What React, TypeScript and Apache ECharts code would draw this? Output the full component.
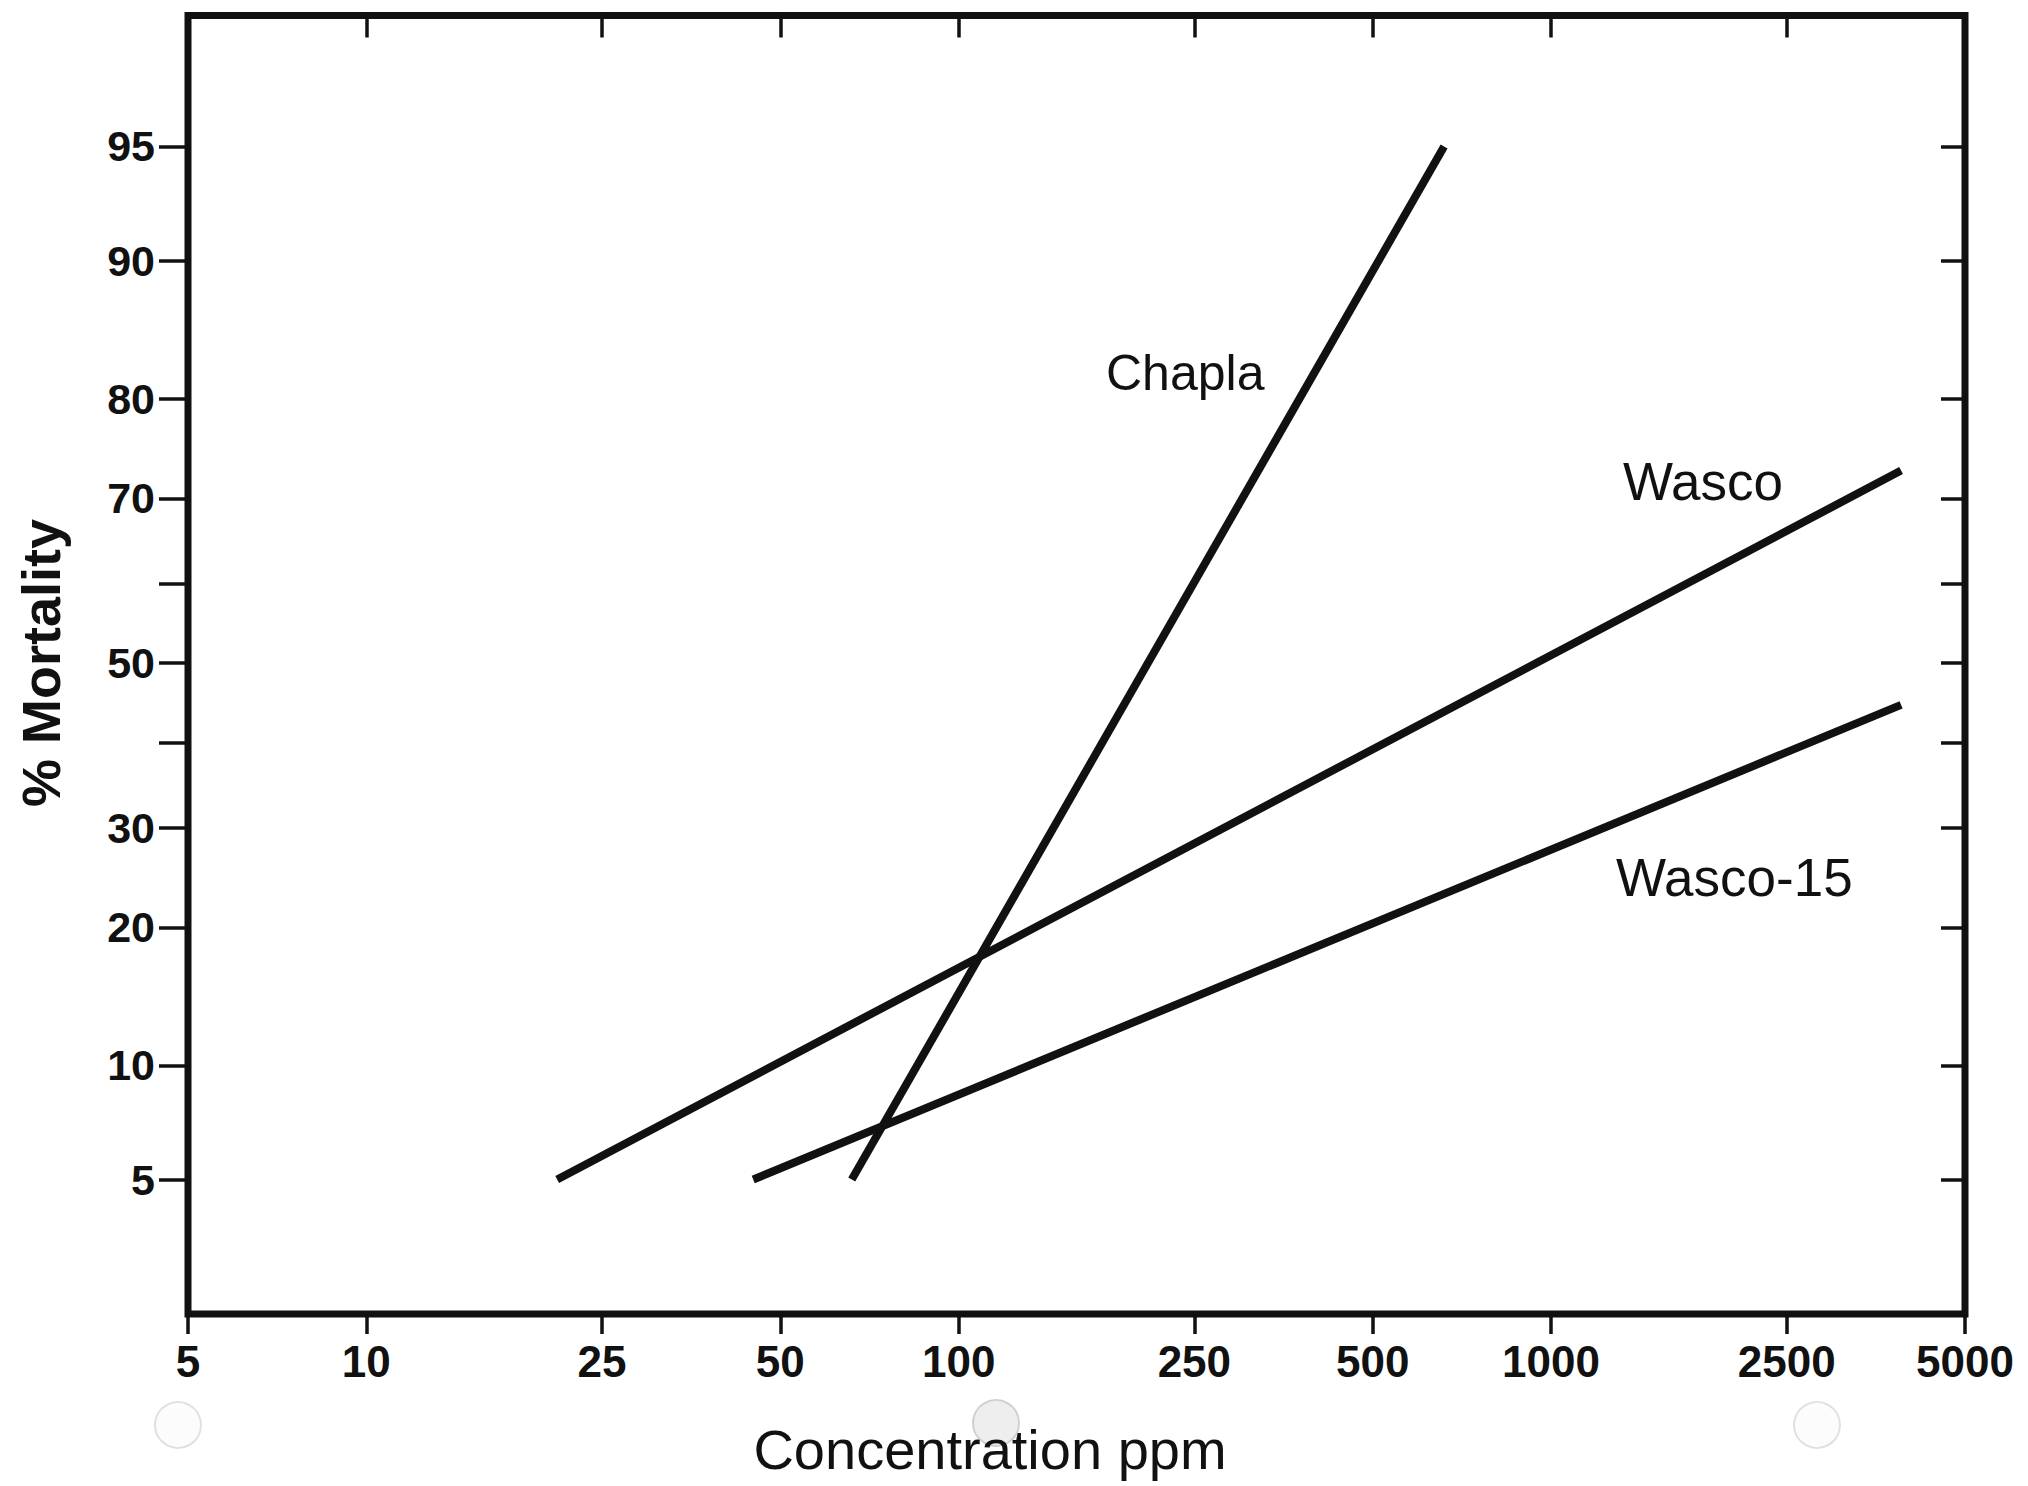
import React, { useEffect, useRef } from "react";
import * as echarts from "echarts";

// ---- data ----
// concentration (ppm) and % mortality at the two ends of each fitted probit line
const chaplaConc = [66, 660];
const chaplaPct = [5, 95];
const wascoConc = [21, 3900];
const wascoPct = [5, 73];
const wasco15Conc = [45, 3900];
const wasco15Pct = [5, 44.7];

// axis ticks / labels
const concTicks = [5, 10, 25, 50, 100, 250, 500, 1000, 2500, 5000];
const concTopTicks = [10, 25, 50, 100, 250, 500, 1000, 2500];
const pctTicks = [5, 10, 20, 30, 40, 50, 60, 70, 80, 90, 95];
const pctLabels = [5, 10, 20, 30, 50, 70, 80, 90, 95];

const seriesNames = ["Chapla", "Wasco", "Wasco-15"];

// inverse normal CDF (probit scale)
function probit(p: number): number {
  const a = [-3.969683028665376e1, 2.209460984245205e2, -2.759285104469687e2, 1.38357751867269e2, -3.066479806614716e1, 2.506628277459239];
  const b = [-5.447609879822406e1, 1.615858368580409e2, -1.556989798598866e2, 6.680131188771972e1, -1.328068155288572e1];
  const c = [-7.784894002430293e-3, -3.223964580411365e-1, -2.400758277161838, -2.549732539343734, 4.374664141464968, 2.938163982698783];
  const d = [7.784695709041462e-3, 3.224671290700398e-1, 2.445134137142996, 3.754408661907416];
  const plow = 0.02425;
  const phigh = 1 - plow;
  let q: number, r: number;
  if (p < plow) {
    q = Math.sqrt(-2 * Math.log(p));
    return (((((c[0] * q + c[1]) * q + c[2]) * q + c[3]) * q + c[4]) * q + c[5]) / ((((d[0] * q + d[1]) * q + d[2]) * q + d[3]) * q + 1);
  }
  if (p <= phigh) {
    q = p - 0.5;
    r = q * q;
    return ((((((a[0] * r + a[1]) * r + a[2]) * r + a[3]) * r + a[4]) * r + a[5]) * q) / (((((b[0] * r + b[1]) * r + b[2]) * r + b[3]) * r + b[4]) * r + 1);
  }
  q = Math.sqrt(-2 * Math.log(1 - p));
  return -(((((c[0] * q + c[1]) * q + c[2]) * q + c[3]) * q + c[4]) * q + c[5]) / ((((d[0] * q + d[1]) * q + d[2]) * q + d[3]) * q + 1);
}

const toPoints = (conc: number[], pct: number[]) => conc.map((cv, i) => [Math.log10(cv), probit(pct[i] / 100)]);

const INK = "#111111";
const FONT = "'Liberation Sans', Arial, Helvetica, sans-serif";

export default function App() {
  const ref = useRef<HTMLDivElement>(null);

  useEffect(() => {
    if (!ref.current) return;
    const chart = echarts.init(ref.current, null, { renderer: "svg" });

    const pctFormatter = (v: number) => {
      let best = pctLabels[0];
      for (const p of pctLabels) {
        if (Math.abs(probit(p / 100) - v) < Math.abs(probit(best / 100) - v)) best = p;
      }
      return String(best);
    };

    const xMin = Math.log10(5);
    const xMax = Math.log10(5000);
    const yMin = -2.073;
    const yMax = 2.062;

    const lineSeries = (name: string, conc: number[], pct: number[]) => ({
      name,
      type: "line",
      xAxisIndex: 0,
      yAxisIndex: 0,
      data: toPoints(conc, pct),
      symbol: "none",
      silent: true,
      lineStyle: { color: INK, width: 8, cap: "butt" },
      z: 3,
    });

    const option: any = {
      animation: false,
      backgroundColor: "#ffffff",
      grid: {
        left: 188,
        right: 63,
        top: 15.5,
        bottom: 172,
        show: true,
        borderWidth: 7,
        borderColor: INK,
        backgroundColor: "transparent",
        containLabel: false,
        outerBoundsMode: "none",
      },
      xAxis: [
        {
          type: "value",
          position: "bottom",
          min: xMin,
          max: xMax,
          axisLine: { show: false, onZero: false },
          splitLine: { show: false },
          axisTick: {
            show: true,
            inside: false,
            length: 20,
            customValues: concTicks.map((v) => Math.log10(v)),
            lineStyle: { color: INK, width: 3.5 },
          },
          axisLabel: {
            show: true,
            customValues: concTicks.map((v) => Math.log10(v)),
            formatter: (v: number) => String(Math.round(Math.pow(10, v))),
            color: INK,
            fontSize: 44,
            fontWeight: "bold",
            fontFamily: FONT,
            margin: 25,
            showMinLabel: true,
            showMaxLabel: true,
          },
        },
        {
          type: "value",
          position: "top",
          min: xMin,
          max: xMax,
          axisLine: { show: false, onZero: false },
          splitLine: { show: false },
          axisTick: {
            show: true,
            inside: true,
            length: 22,
            customValues: concTopTicks.map((v) => Math.log10(v)),
            lineStyle: { color: INK, width: 3.5 },
          },
          axisLabel: { show: false },
        },
      ],
      yAxis: [
        {
          type: "value",
          position: "left",
          min: yMin,
          max: yMax,
          axisLine: { show: false, onZero: false },
          splitLine: { show: false },
          axisTick: {
            show: true,
            inside: false,
            length: 29,
            customValues: pctTicks.map((p) => probit(p / 100)),
            lineStyle: { color: INK, width: 3.5 },
          },
          axisLabel: {
            show: true,
            customValues: pctLabels.map((p) => probit(p / 100)),
            formatter: pctFormatter,
            color: INK,
            fontSize: 43,
            fontWeight: "bold",
            fontFamily: FONT,
            margin: 33,
            showMinLabel: true,
            showMaxLabel: true,
          },
        },
        {
          type: "value",
          position: "right",
          min: yMin,
          max: yMax,
          axisLine: { show: false, onZero: false },
          splitLine: { show: false },
          axisTick: {
            show: true,
            inside: true,
            length: 24,
            customValues: pctTicks.map((p) => probit(p / 100)),
            lineStyle: { color: INK, width: 3.5 },
          },
          axisLabel: { show: false },
        },
      ],
      series: [
        lineSeries(seriesNames[0], chaplaConc, chaplaPct),
        lineSeries(seriesNames[1], wascoConc, wascoPct),
        lineSeries(seriesNames[2], wasco15Conc, wasco15Pct),
      ],
      graphic: [
        // faint punch-hole marks of the scanned page
        { type: "circle", shape: { cx: 178, cy: 1425, r: 23 }, style: { fill: "#fcfcfc", stroke: "#e0e0e0", lineWidth: 2 }, z: 0 },
        { type: "circle", shape: { cx: 996, cy: 1423, r: 23 }, style: { fill: "#eeeeee", stroke: "#d0d0d0", lineWidth: 2 }, z: 0 },
        { type: "circle", shape: { cx: 1817, cy: 1425, r: 23 }, style: { fill: "#fcfcfc", stroke: "#e0e0e0", lineWidth: 2 }, z: 0 },
        {
          type: "text",
          x: 41,
          y: 663,
          rotation: Math.PI / 2,
          style: { text: "% Mortality", fill: INK, font: `bold 54px ${FONT}`, align: "center", verticalAlign: "middle" },
          z: 5,
        },
        {
          type: "text",
          x: 990,
          y: 1449,
          style: { text: "Concentration ppm", fill: INK, font: `56px ${FONT}`, align: "center", verticalAlign: "middle" },
          z: 5,
        },
        {
          type: "text",
          x: 1106,
          y: 373,
          style: { text: seriesNames[0], fill: INK, font: `50px ${FONT}`, align: "left", verticalAlign: "middle" },
          z: 5,
        },
        {
          type: "text",
          x: 1623,
          y: 481,
          style: { text: seriesNames[1], fill: INK, font: `53px ${FONT}`, align: "left", verticalAlign: "middle" },
          z: 5,
        },
        {
          type: "text",
          x: 1616,
          y: 877,
          style: { text: seriesNames[2], fill: INK, font: `53px ${FONT}`, align: "left", verticalAlign: "middle" },
          z: 5,
        },
      ],
    };

    chart.setOption(option);
    return () => chart.dispose();
  }, []);

  return (
    <div
      ref={ref}
      style={{ position: "fixed", left: 0, top: 0, width: "2028px", height: "1486px", background: "#ffffff" }}
    />
  );
}
